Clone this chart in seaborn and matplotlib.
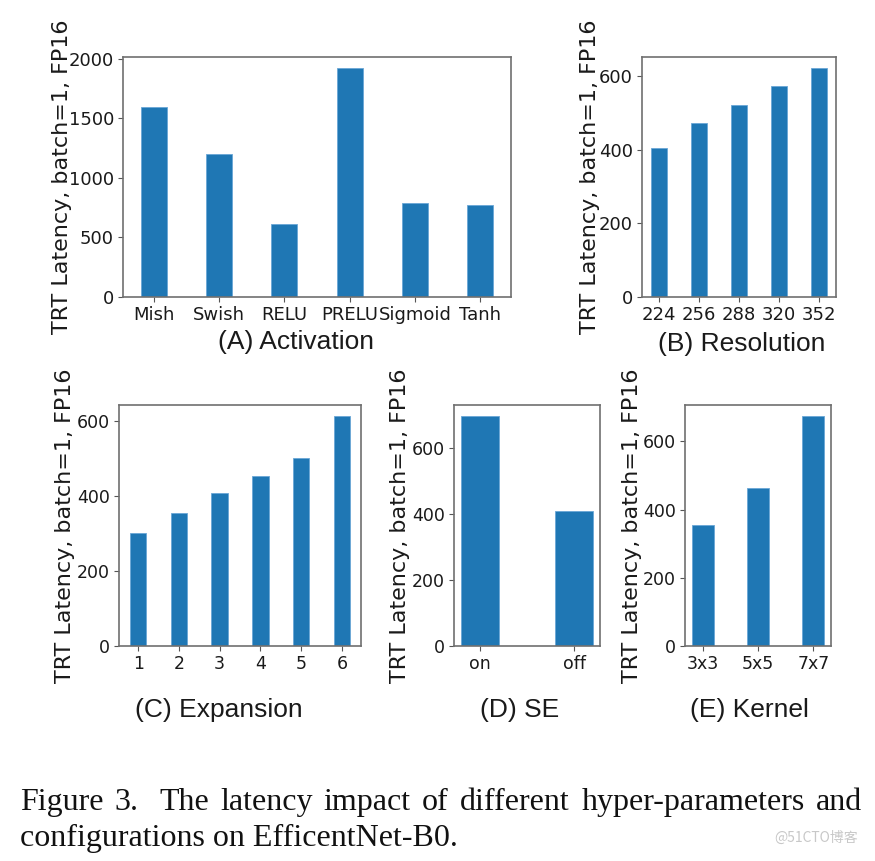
import matplotlib
matplotlib.use('Agg')
import matplotlib.pyplot as plt
from matplotlib.ticker import MultipleLocator
import seaborn as sns

act_labels = ['Mish', 'Swish', 'RELU', 'PRELU', 'Sigmoid', 'Tanh']
act_values = [1600, 1200, 610, 1920, 790, 770]
res_labels = ['224', '256', '288', '320', '352']
res_values = [405, 472, 520, 571, 620]
exp_labels = ['1', '2', '3', '4', '5', '6']
exp_values = [302, 355, 407, 452, 502, 612]
se_labels = ['on', 'off']
se_values = [695, 408]
ker_labels = ['3x3', '5x5', '7x7']
ker_values = [354, 463, 673]

ylabel_text = 'TRT Latency, batch=1, FP16'
caption1 = 'Figure 3.  The latency impact of different hyper-parameters and'
caption2 = 'configurations on EfficentNet-B0.'

sns.set_theme(style='white')
plt.rcParams['font.family'] = ['DejaVu Sans']

W, H = 875, 861
fig = plt.figure(figsize=(W / 100, H / 100), dpi=100)
fig.patch.set_facecolor('white')

BAR = '#1f77b4'

panels = [
    # labels, values, (l, t, r, b), xlabel, xlabel centre, ylabel centre x, tick step, bottom row
    (act_labels, act_values, (123, 57, 511, 297), '(A) Activation', (296, 342), 62, 500, False),
    (res_labels, res_values, (642, 57, 836, 297), '(B) Resolution', (742, 344), 590, 200, False),
    (exp_labels, exp_values, (119, 405, 361, 646), '(C) Expansion', (219, 710), 65, 200, True),
    (se_labels, se_values, (454, 405, 600, 646), '(D) SE', (520, 710), 400, 200, True),
    (ker_labels, ker_values, (685, 405, 831, 646), '(E) Kernel', (749, 710), 632, 200, True),
]

for labels, values, (l, t, r, b), xl, (xcx, xcy), ycx, step, bottom_row in panels:
    ax = fig.add_axes([l / W, 1 - b / H, (r - l) / W, (b - t) / H])
    sns.barplot(x=labels, y=values, ax=ax, color=BAR, saturation=1, width=0.4,
                edgecolor='#6aa6d6', linewidth=0.6)
    n = len(labels)
    span = (n - 1) + 0.4
    ax.set_xlim(-0.2 - 0.05 * span, n - 1 + 0.2 + 0.05 * span)
    ax.set_ylim(0, max(values) * 1.05)
    ax.yaxis.set_major_locator(MultipleLocator(step))
    for s in ax.spines.values():
        s.set_color('#707070')
        s.set_linewidth(1.2)
    ax.tick_params(axis='both', bottom=True, left=True, length=3.5, width=0.8,
                   color='#555555', labelcolor='#1a1a1a',
                   labelsize=12.5 if bottom_row else 13, pad=3)
    if bottom_row:
        for lab in ax.get_xticklabels() + ax.get_yticklabels():
            lab.set_family(['DejaVu Sans Condensed', 'DejaVu Sans'])
    ax.set_ylabel(ylabel_text, fontsize=16, color='#1a1a1a')
    ax.yaxis.set_label_coords((ycx - l) / (r - l), 0.5)
    ax.yaxis.label.set_verticalalignment('center')
    ax.set_xlabel(xl, fontsize=19, color='#1a1a1a', family=['Liberation Sans', 'DejaVu Sans'])
    ax.xaxis.set_label_coords((xcx - l) / (r - l), (b - xcy) / (b - t))
    ax.xaxis.label.set_verticalalignment('center')

# caption: first line justified between x=20 and x=862
serif = ['Liberation Serif', 'DejaVu Serif']
cap_size = 23
renderer = fig.canvas.get_renderer()
words = caption1.split()
texts = []
widths = []
for w in words:
    tx = fig.text(0, 1 - 810 / H, w, fontsize=cap_size, family=serif, va='baseline',
                  ha='left', color='#111111')
    texts.append(tx)
    widths.append(tx.get_window_extent(renderer).width)
# the gap after "3." is wider (sentence spacing)
weights = [1.0] * (len(words) - 1)
weights[1] = 1.8
x_left, x_right = 20, 862
unit = (x_right - x_left - sum(widths)) / sum(weights)
x = x_left
for i, (tx, wd) in enumerate(zip(texts, widths)):
    tx.set_x(x / W)
    if i < len(weights):
        x += wd + unit * weights[i]

fig.text(20 / W, 1 - 846 / H, caption2, fontsize=cap_size, family=serif,
         va='baseline', ha='left', color='#111111')
fig.text(858 / W, 1 - 838 / H, '@51CTO博客', fontsize=10,
         family=['Noto Sans CJK SC', 'DejaVu Sans'], color='#c8c8c8', ha='right', va='center')

fig.savefig('out.png', dpi=100, facecolor='white')
